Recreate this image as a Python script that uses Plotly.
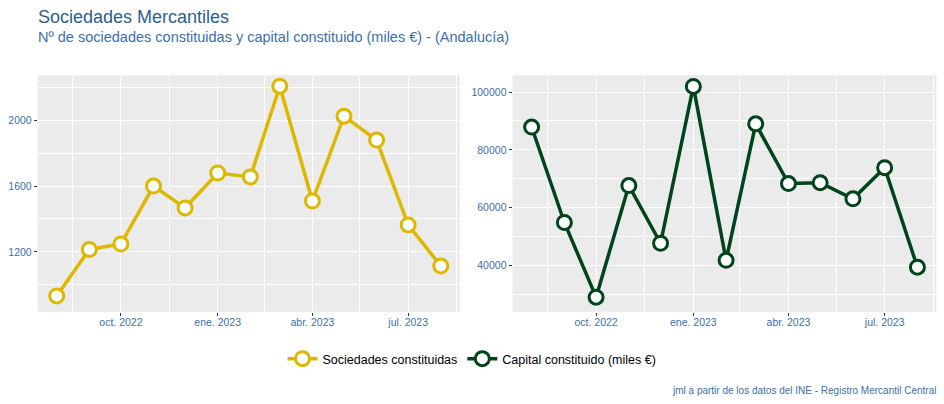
import pandas as pd
import plotly.graph_objects as go
from plotly.subplots import make_subplots

# Datos mensuales (Andalucía), ago. 2022 - ago. 2023
meses = pd.date_range("2022-08-01", "2023-08-01", freq="MS")
sociedades = [933, 1215, 1248, 1600, 1467, 1679, 1655, 2206, 1509, 2024, 1879, 1364, 1115]
capital = [87900, 54800, 28900, 67600, 47600, 102000, 41700, 89000, 68300, 68600, 63000, 73800, 39300]

tick_fechas = ["2022-10-01", "2023-01-01", "2023-04-01", "2023-07-01"]
tick_textos = ["oct. 2022", "ene. 2023", "abr. 2023", "jul. 2023"]
minor_fechas = ["2022-08-16", "2022-11-16", "2023-02-14", "2023-05-16", "2023-08-16"]

COL_SOC = "#DDB700"
COL_CAP = "#00441B"
COL_TXT = "#3D6FA8"
FONT = "Liberation Sans, Arial, sans-serif"

pad = pd.Timedelta(days=18)
x_range = [meses[0] - pad, meses[-1] + pad]

fig = make_subplots(rows=1, cols=2)

fig.add_trace(go.Scatter(
    x=meses, y=sociedades, name="Sociedades constituidas",
    mode="lines+markers",
    line=dict(color=COL_SOC, width=3.5),
    marker=dict(size=14, color="white", line=dict(color=COL_SOC, width=3)),
), row=1, col=1)

fig.add_trace(go.Scatter(
    x=meses, y=capital, name="Capital constituido (miles €)",
    mode="lines+markers",
    line=dict(color=COL_CAP, width=3.5),
    marker=dict(size=14, color="white", line=dict(color=COL_CAP, width=3)),
), row=1, col=2)

xaxis_common = dict(
    range=x_range, tickvals=tick_fechas, ticktext=tick_textos,
    showgrid=True, gridcolor="white", gridwidth=1.2,
    ticks="outside", ticklen=3, tickcolor="#333333",
    tickfont=dict(size=10.5, color=COL_TXT, family=FONT),
    ticklabelstandoff=-2,
    minor=dict(tickvals=minor_fechas, showgrid=True, gridcolor="white", gridwidth=0.6),
    zeroline=False, showline=False, automargin=False,
)
yaxis_common = dict(
    showgrid=True, gridcolor="white", gridwidth=1.2,
    ticks="outside", ticklen=3, tickcolor="#333333",
    tickfont=dict(size=10.5, color=COL_TXT, family=FONT),
    zeroline=False, showline=False, automargin=False, tickformat="d",
)

fig.update_xaxes(**xaxis_common, domain=[0.040, 0.487], row=1, col=1)
fig.update_xaxes(**xaxis_common, domain=[0.543, 0.992], row=1, col=2)
fig.update_yaxes(**yaxis_common, range=[836, 2273], tickvals=[1200, 1600, 2000],
                 minor=dict(tickvals=[1000, 1400, 1800, 2200], showgrid=True, gridcolor="white", gridwidth=0.6),
                 domain=[0.228, 0.814], row=1, col=1)
fig.update_yaxes(**yaxis_common, range=[23800, 105900], tickvals=[40000, 60000, 80000, 100000],
                 minor=dict(tickvals=[30000, 50000, 70000, 90000], showgrid=True, gridcolor="white", gridwidth=0.6),
                 domain=[0.228, 0.814], row=1, col=2)

fig.add_annotation(text="Sociedades Mercantiles", xref="paper", yref="paper",
                   x=36 / 944, y=1 - 5 / 404, xanchor="left", yanchor="top", showarrow=False,
                   font=dict(size=18, color="#2E5F8A", family=FONT))
fig.add_annotation(text="Nº de sociedades constituidas y capital constituido (miles €) - (Andalucía)",
                   xref="paper", yref="paper",
                   x=36 / 944, y=1 - 27 / 404, xanchor="left", yanchor="top", showarrow=False,
                   font=dict(size=14.5, color="#3D6FA8", family=FONT))
fig.add_annotation(text="jml a partir de los datos del INE - Registro Mercantil Central",
                   xref="paper", yref="paper",
                   x=938 / 944, y=1 - 383 / 404, xanchor="right", yanchor="top", showarrow=False,
                   font=dict(size=10, color="#3D6FA8", family=FONT))

fig.update_layout(
    width=944, height=404,
    margin=dict(l=0, r=0, t=0, b=0, autoexpand=False),
    paper_bgcolor="white", plot_bgcolor="#EBEBEB",
    font=dict(family=FONT, color="#222222"),
    showlegend=True,
    legend=dict(orientation="h", x=0.5, xanchor="center", y=1 - 344 / 404, yanchor="top",
                font=dict(size=12.5, color="black", family=FONT), itemwidth=30),
)

# quitar el margen por defecto del <body> para que la figura ocupe la ventana
fig.write_html("out.html", config={"displayModeBar": False},
               post_script="document.body.style.margin='0';document.body.style.overflow='hidden';")
